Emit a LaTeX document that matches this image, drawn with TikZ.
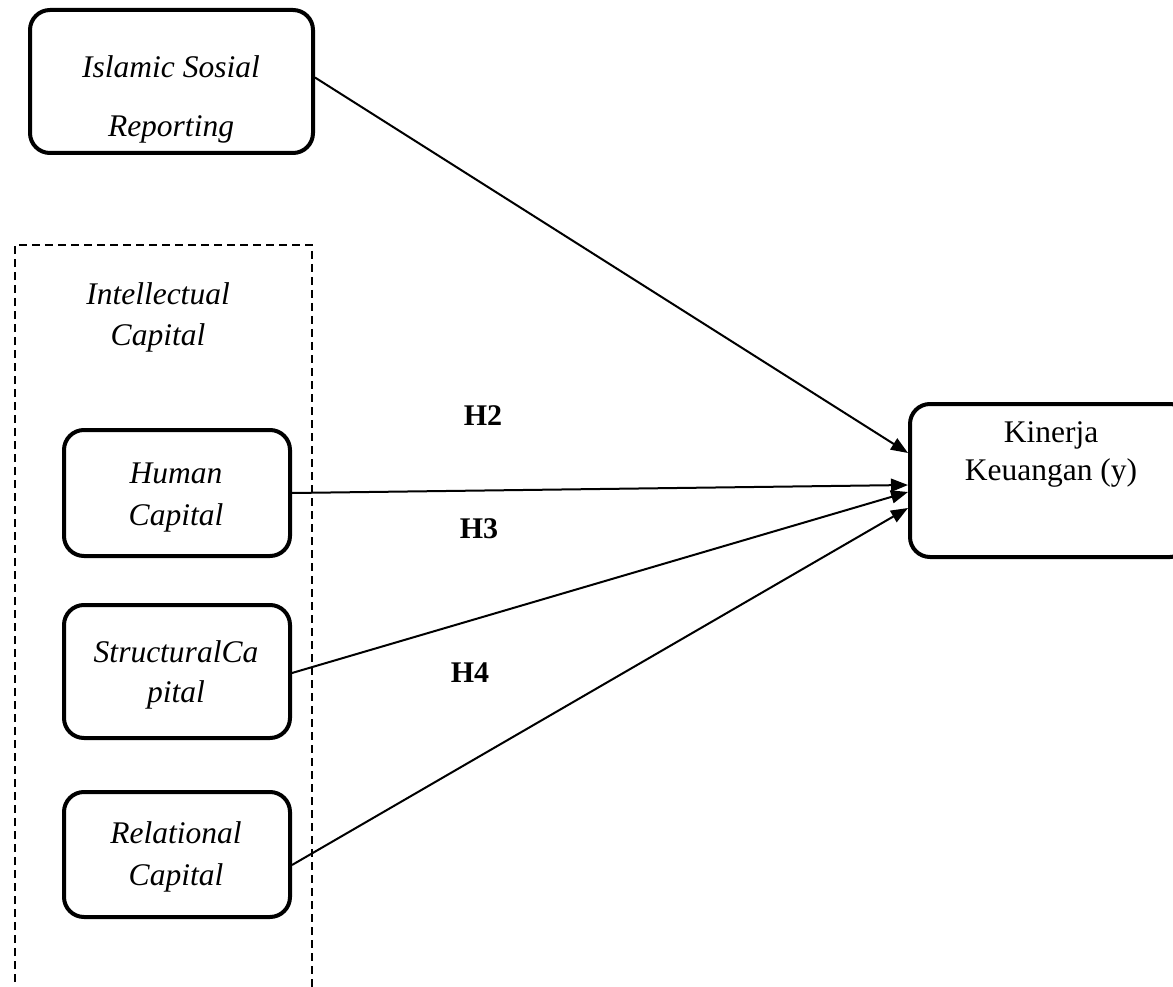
\documentclass[tikz,border=0pt]{standalone}
\usepackage{fontspec}
\setmainfont{Liberation Serif}
\usetikzlibrary{arrows.meta}
\begin{document}
\begin{tikzpicture}[x=1pt,y=-1pt,
  box/.style={draw, line width=4pt, rounded corners=20pt, rectangle, inner sep=0pt},
  lbl/.style={anchor=base, inner sep=0pt, font=\fontsize{31.5}{38}\selectfont},
  ital/.style={lbl, font=\fontsize{31.5}{38}\selectfont\itshape},
  hyp/.style={lbl, font=\fontsize{30}{36}\selectfont\bfseries},
  link/.style={line width=2pt, -{Triangle[length=17pt,width=13pt]}}]
\useasboundingbox (0,0) rectangle (1173,987);
\fill[white] (0,0) rectangle (1173,987);
% dashed group
\draw[line width=1.5pt, dash pattern=on 8pt off 5pt] (15,995) -- (15,245) -- (312,245) -- (312,995);
\node[ital] (ictxt1) at (158,305) {Intellectual};
\node[ital] (ictxt2) at (158,345) {Capital};
% boxes
\node[box, minimum width=283pt, minimum height=143pt] (isr) at (171.5,81.5) {};
\node[ital] at (171,78) {Islamic Sosial};
\node[ital] at (171,137) {Reporting};
\node[box, minimum width=226pt, minimum height=126pt] (hc) at (177,493) {};
\node[ital] at (176,483) {Human};
\node[ital] at (176,525) {Capital};
\node[box, minimum width=226pt, minimum height=133pt] (sc) at (177,671.5) {};
\node[ital] at (176,662) {StructuralCa};
\node[ital] at (176,702) {pital};
\node[box, minimum width=226pt, minimum height=125pt] (rc) at (177,854.5) {};
\node[ital] at (176,843) {Relational};
\node[ital] at (176,885) {Capital};
\node[box, minimum width=280pt, minimum height=153pt] (kin) at (1050,480.5) {};
\node[lbl] at (1051,442) {Kinerja};
\node[lbl] at (1051,480) {Keuangan (y)};
% hypothesis labels
\node[hyp] (h2) at (483,425) {H2};
\node[hyp] (h3) at (479,538) {H3};
\node[hyp] (h4) at (470,682) {H4};
% connectors
\draw[link] ([yshift=4pt]isr.east) -- ([yshift=27.5pt]kin.west);
\draw[link] (hc.east) -- ([yshift=-4.5pt]kin.west);
\draw[link] ([yshift=-1.5pt]sc.east) -- ([yshift=-11.5pt]kin.west);
\draw[link] ([yshift=-10.5pt]rc.east) -- ([yshift=-27.5pt]kin.west);
\end{tikzpicture}
\end{document}
